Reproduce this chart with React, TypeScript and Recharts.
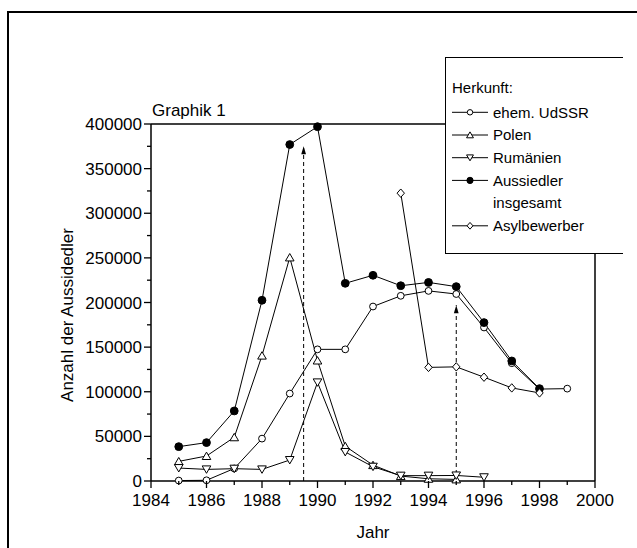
import React from 'react';
import {
  LineChart,
  Line,
  XAxis,
  YAxis,
  ReferenceLine,
  ReferenceDot,
  Legend,
  Label,
} from 'recharts';

const years = [1985, 1986, 1987, 1988, 1989, 1990, 1991, 1992, 1993, 1994, 1995, 1996, 1997, 1998, 1999];
const udssr = [500, 800, 14000, 47500, 98000, 147500, 147500, 195500, 207500, 213000, 209500, 172000, 132000, 103000, 103500];
const polen = [22000, 28000, 49000, 140500, 250500, 135000, 39000, 17800, 5500, 2500, 1800, null, null, null, null];
const rumaenien = [14500, 13000, 13800, 13000, 23500, 110500, 32500, 16000, 6000, 6000, 6200, 4200, null, null, null];
const aussiedler = [38500, 43000, 78500, 202500, 377000, 397000, 221500, 230500, 218800, 222500, 217800, 177500, 134500, 103500, null];
const asyl = [null, null, null, null, null, null, null, null, 322500, 127300, 127900, 116300, 104300, 98700, null];

const xTicks = [1984, 1985, 1986, 1987, 1988, 1989, 1990, 1991, 1992, 1993, 1994, 1995, 1996, 1997, 1998, 1999, 2000];
const yTicks = [0, 25000, 50000, 75000, 100000, 125000, 150000, 175000, 200000, 225000, 250000, 275000, 300000, 325000, 350000, 375000, 400000];

// dashed arrows: year, top value
const arrowYears = [1989.5, 1995];
const arrowTops = [375000, 197000];

const series = [
  { key: 'udssr', name: 'ehem. UdSSR', marker: 'circle' },
  { key: 'polen', name: 'Polen', marker: 'up' },
  { key: 'rumaenien', name: 'Rumänien', marker: 'down' },
  { key: 'aussiedler', name: 'Aussiedler|insgesamt', marker: 'filled' },
  { key: 'asyl', name: 'Asylbewerber', marker: 'diamond' },
];

const data = years.map((year, i) => ({
  year,
  udssr: udssr[i],
  polen: polen[i],
  rumaenien: rumaenien[i],
  aussiedler: aussiedler[i],
  asyl: asyl[i],
}));

const FONT = '"Liberation Sans", Arial, sans-serif';

function Marker({ kind, cx, cy, s = 1 }: { kind: string; cx: number; cy: number; s?: number }) {
  const p = { stroke: '#000', strokeWidth: 1, fill: '#fff' };
  if (kind === 'circle') return <circle cx={cx} cy={cy} r={3.4 * s} {...p} />;
  if (kind === 'filled') return <circle cx={cx} cy={cy} r={3.9 * s} {...p} fill="#000" />;
  if (kind === 'up')
    return <polygon points={`${cx},${cy - 3.9 * s} ${cx - 4.3 * s},${cy + 3.5 * s} ${cx + 4.3 * s},${cy + 3.5 * s}`} {...p} />;
  if (kind === 'down')
    return <polygon points={`${cx},${cy + 3.9 * s} ${cx - 4.3 * s},${cy - 3.5 * s} ${cx + 4.3 * s},${cy - 3.5 * s}`} {...p} />;
  return <polygon points={`${cx},${cy - 4.2 * s} ${cx + 3.7 * s},${cy} ${cx},${cy + 4.2 * s} ${cx - 3.7 * s},${cy}`} {...p} />;
}

const makeDot = (kind: string) => (props: any) => {
  const { cx, cy, index, value } = props;
  if (cx == null || cy == null || value == null) return <g key={`${kind}-${index}`} />;
  return (
    <g key={`${kind}-${index}`}>
      <Marker kind={kind} cx={cx} cy={cy} />
    </g>
  );
};

const XTick = (props: any) => {
  const { x, y, payload } = props;
  const major = payload.value % 2 === 0;
  return (
    <g>
      <line x1={x} y1={y} x2={x} y2={y + (major ? 7 : 4)} stroke="#000" strokeWidth={1.3} />
      {major && (
        <text x={x} y={y + 25} textAnchor="middle" fontSize={17} fontFamily={FONT} fill="#000">
          {payload.value}
        </text>
      )}
    </g>
  );
};

const YTick = (props: any) => {
  const { x, y, payload } = props;
  const major = payload.value % 50000 === 0;
  return (
    <g>
      <line x1={x - (major ? 7 : 4)} y1={y} x2={x} y2={y} stroke="#000" strokeWidth={1.3} />
      {major && (
        <text x={x - 9} y={y + 6} textAnchor="end" fontSize={17} fontFamily={FONT} fill="#000">
          {payload.value}
        </text>
      )}
    </g>
  );
};

const renderLegend = () => {
  const rowY = (i: number) => 55.3 + i * 22.7;
  return (
    <svg width={178} height={197} style={{ display: 'block' }}>
      <rect x={0} y={0} width={178} height={197} fill="#fff" />
      <line x1={0.5} y1={0} x2={0.5} y2={197} stroke="#000" strokeWidth={1} />
      <line x1={0} y1={0.5} x2={178} y2={0.5} stroke="#000" strokeWidth={1} />
      <line x1={0} y1={196.5} x2={178} y2={196.5} stroke="#000" strokeWidth={1} />
      <text x={7} y={36} fontSize={15} fontFamily={FONT} fill="#000">
        Herkunft:
      </text>
      {series.map((s, i) => {
        const cy = rowY(i === 4 ? 5 : i);
        const lines = s.name.split('|');
        return (
          <g key={s.key}>
            <line x1={7} y1={cy} x2={43} y2={cy} stroke="#000" strokeWidth={1} />
            <Marker kind={s.marker} cx={25} cy={cy} s={0.8} />
            {lines.map((t, j) => (
              <text key={t} x={48} y={cy + 5.3 + j * 22.7} fontSize={15} fontFamily={FONT} fill="#000">
                {t}
              </text>
            ))}
          </g>
        );
      })}
    </svg>
  );
};

export default function App() {
  return (
    <div style={{ position: 'absolute', left: 0, top: 0, width: 637, height: 548, background: '#fff', fontFamily: FONT, overflow: 'hidden' }}>
      <div
        style={{
          position: 'absolute',
          left: 7,
          top: 11,
          width: 640,
          height: 545,
          borderTop: '2px solid #000',
          borderLeft: '2px solid #000',
          pointerEvents: 'none',
        }}
      />
      <LineChart width={637} height={548} data={data} margin={{ top: 124, right: 42, bottom: 0, left: 0 }}>
        <XAxis
          dataKey="year"
          type="number"
          domain={[1984, 2000]}
          ticks={xTicks}
          interval={0}
          height={67}
          tickSize={0}
          tickMargin={0}
          tickLine={false}
          tick={<XTick />}
          axisLine={{ stroke: '#000', strokeWidth: 1.5 }}
        >
          <Label
            content={(p: any) => {
              const vb = p.viewBox;
              return (
                <text x={vb.x + vb.width / 2} y={vb.y + 57} textAnchor="middle" fontSize={17} fontFamily={FONT} fill="#000">
                  Jahr
                </text>
              );
            }}
          />
        </XAxis>
        <YAxis
          type="number"
          domain={[0, 400000]}
          ticks={yTicks}
          interval={0}
          width={151}
          tickSize={0}
          tickMargin={0}
          tickLine={false}
          tick={<YTick />}
          axisLine={{ stroke: '#000', strokeWidth: 1.5 }}
        >
          <Label
            content={(p: any) => {
              const vb = p.viewBox;
              const cx = vb.x + 73;
              const cy = vb.y + vb.height / 2 + 12.5;
              return (
                <text x={cx} y={cy} transform={`rotate(-90, ${cx}, ${cy})`} textAnchor="middle" fontSize={17} fontFamily={FONT} fill="#000">
                  Anzahl der Aussidedler
                </text>
              );
            }}
          />
        </YAxis>
        <ReferenceLine y={400000} stroke="#000" strokeWidth={1.5}>
          <Label
            content={(p: any) => {
              const vb = p.viewBox;
              return (
                <text x={vb.x + 1} y={vb.y - 8} fontSize={17} fontFamily={FONT} fill="#000">
                  Graphik 1
                </text>
              );
            }}
          />
        </ReferenceLine>
        <ReferenceLine x={2000} stroke="#000" strokeWidth={1.5} />
        {arrowYears.map((yr, i) => (
          <ReferenceLine
            key={`arrow-${yr}`}
            segment={[
              { x: yr, y: 0 },
              { x: yr, y: arrowTops[i] },
            ]}
            stroke="#000"
            strokeWidth={1}
            strokeDasharray="4 3"
          />
        ))}
        {arrowYears.map((yr, i) => (
          <ReferenceDot
            key={`head-${yr}`}
            x={yr}
            y={arrowTops[i]}
            shape={(p: any) => (
              <polygon points={`${p.cx},${p.cy} ${p.cx - 2.4},${p.cy + 8} ${p.cx + 2.4},${p.cy + 8}`} fill="#000" />
            )}
          />
        ))}
        {series.map((s) => (
          <Line
            key={s.key}
            dataKey={s.key}
            name={s.name}
            type="linear"
            stroke="#000"
            strokeWidth={1}
            dot={makeDot(s.marker)}
            activeDot={false}
            isAnimationActive={false}
          />
        ))}
        <Legend
          layout="vertical"
          align="center"
          verticalAlign="middle"
          width={178}
          height={197}
          wrapperStyle={{ left: 445, top: 57 }}
          content={renderLegend}
        />
      </LineChart>
    </div>
  );
}
